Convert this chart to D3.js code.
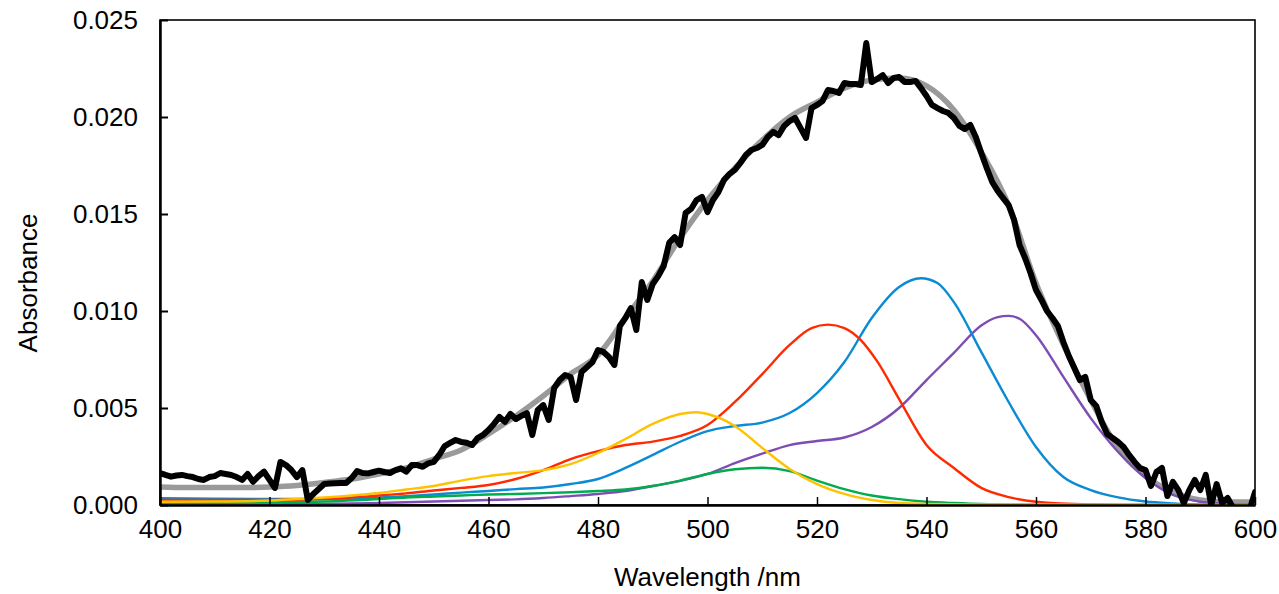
<!DOCTYPE html>
<html>
<head>
<meta charset="utf-8">
<script src="https://cdn.jsdelivr.net/npm/d3@7"></script>
<style>
  html, body { margin: 0; padding: 0; background: #fff; }
  svg { display: block; }
  text { font-family: "Liberation Sans", Arial, sans-serif; fill: #000; }
</style>
</head>
<body>
<svg id="chart" width="1279" height="594"></svg>
<script>
// ---------------- DATA ----------------
const xTicks = [400, 420, 440, 460, 480, 500, 520, 540, 560, 580, 600];
const yTicks = [0, 0.005, 0.010, 0.015, 0.020, 0.025];
const xLabel = "Wavelength /nm";
const yLabel = "Absorbance";

// measured spectrum (black), 1 nm steps 400..600
const measuredStart = 400;
const measured = [
  0.00165,0.00155,0.00146,0.00152,0.00155,0.00149,0.00144,0.00134,0.00129,0.00144,
  0.00149,0.00165,0.00160,0.00155,0.00144,0.00129,0.00160,0.00120,0.00149,0.00172,
  0.00129,0.00088,0.00222,0.00206,0.00180,0.00144,0.00180,0.00026,0.00057,0.00082,
  0.00108,0.00111,0.00112,0.00113,0.00113,0.00139,0.00175,0.00165,0.00163,0.00170,
  0.00177,0.00170,0.00165,0.00180,0.00189,0.00172,0.00206,0.00206,0.00197,0.00215,
  0.00222,0.00258,0.00304,0.00320,0.00335,0.00325,0.00321,0.00309,0.00345,0.00361,
  0.00387,0.00418,0.00454,0.00429,0.00469,0.00443,0.00459,0.00474,0.00361,0.00490,
  0.00515,0.00438,0.00603,0.00644,0.00670,0.00660,0.00541,0.00686,0.00711,0.00737,
  0.00799,0.00789,0.00763,0.00722,0.00923,0.00964,0.01015,0.00902,0.01149,0.01057,
  0.01139,0.01180,0.01232,0.01351,0.01381,0.01340,0.01505,0.01526,0.01572,0.01588,
  0.01510,0.01572,0.01613,0.01675,0.01706,0.01727,0.01763,0.01804,0.01830,0.01840,
  0.01856,0.01897,0.01923,0.01907,0.01954,0.01979,0.01995,0.01943,0.01892,0.02046,
  0.02062,0.02082,0.02139,0.02134,0.02124,0.02175,0.02170,0.02170,0.02165,0.02381,
  0.02180,0.02196,0.02216,0.02175,0.02201,0.02206,0.02180,0.02180,0.02186,0.02149,
  0.02108,0.02062,0.02046,0.02031,0.02021,0.01995,0.01954,0.01938,0.01959,0.01897,
  0.01814,0.01737,0.01665,0.01619,0.01582,0.01546,0.01469,0.01340,0.01273,0.01196,
  0.01108,0.01057,0.01000,0.00964,0.00923,0.00840,0.00768,0.00706,0.00644,0.00660,
  0.00541,0.00510,0.00428,0.00366,0.00345,0.00325,0.00299,0.00258,0.00222,0.00191,
  0.00180,0.00098,0.00170,0.00191,0.00046,0.00119,0.00077,0.00010,0.00077,0.00129,
  0.00077,0.00155,0.00000,0.00108,0.00010,0.00036,-0.00015,-0.00036,-0.00036,-0.00026,
  0.00067
];

// fitted sum (grey), [wavelength, absorbance]
const fitted = [
  [400,0.00093],[405,0.00090],[410,0.00090],[415,0.00090],[420,0.00093],[425,0.00101],
  [430,0.00116],[435,0.00134],[440,0.00160],[445,0.00191],[450,0.00237],[455,0.00284],
  [460,0.00366],[465,0.00459],[470,0.00562],[475,0.00675],[480,0.00773],[485,0.00964],
  [490,0.01155],[495,0.01376],[500,0.01572],[505,0.01737],[510,0.01881],[515,0.02000],
  [520,0.02077],[525,0.02149],[530,0.02191],[535,0.02201],[540,0.02160],[545,0.02036],
  [550,0.01820],[555,0.01546],[560,0.01144],[565,0.00825],[570,0.00541],[575,0.00294],
  [580,0.00149],[585,0.00067],[590,0.00026],[595,0.00015],[600,0.00015]
];

// component bands
const compPurple = [
  [400,0.00000],[420,0.00003],[440,0.00010],[450,0.00018],[460,0.00026],[465,0.00029],
  [470,0.00036],[475,0.00046],[480,0.00057],[485,0.00072],[490,0.00098],[495,0.00124],
  [500,0.00160],[505,0.00216],[510,0.00265],[515,0.00309],[520,0.00330],[525,0.00348],
  [530,0.00402],[535,0.00500],[540,0.00644],[545,0.00784],[550,0.00925],[553,0.00968],
  [555,0.00975],[557,0.00960],[560,0.00875],[565,0.00660],[570,0.00448],[575,0.00273],
  [580,0.00139],[585,0.00052],[590,0.00017],[595,0.00005],[600,0.00000]
];
const compBlue = [
  [400,0.00035],[410,0.00032],[420,0.00031],[430,0.00031],[440,0.00039],[445,0.00046],
  [450,0.00054],[455,0.00064],[460,0.00072],[465,0.00082],[470,0.00090],[475,0.00108],
  [480,0.00134],[485,0.00191],[490,0.00258],[495,0.00326],[500,0.00381],[505,0.00407],
  [510,0.00425],[515,0.00474],[520,0.00577],[525,0.00737],[530,0.00964],[535,0.01124],
  [539,0.01169],[542,0.01144],[545,0.01046],[550,0.00789],[555,0.00531],[560,0.00299],
  [565,0.00144],[570,0.00077],[575,0.00039],[580,0.00018],[585,0.00008],[590,0.00002],
  [600,0.00000]
];
const compRed = [
  [400,0.00026],[410,0.00026],[420,0.00026],[430,0.00031],[440,0.00049],[445,0.00060],
  [450,0.00075],[455,0.00088],[460,0.00103],[465,0.00134],[470,0.00180],[475,0.00237],
  [480,0.00278],[485,0.00309],[490,0.00327],[495,0.00356],[500,0.00412],[505,0.00531],
  [510,0.00675],[515,0.00825],[519,0.00912],[522,0.00930],[525,0.00912],[528,0.00850],
  [531,0.00740],[535,0.00546],[540,0.00309],[545,0.00191],[550,0.00088],[555,0.00041],
  [560,0.00017],[570,0.00003],[580,0.00000],[600,0.00000]
];
const compGreen = [
  [400,0.00009],[410,0.00010],[420,0.00013],[430,0.00018],[440,0.00031],[445,0.00039],
  [450,0.00044],[455,0.00049],[460,0.00054],[465,0.00057],[470,0.00061],[475,0.00066],
  [480,0.00072],[485,0.00080],[490,0.00098],[495,0.00126],[500,0.00160],[505,0.00184],
  [510,0.00192],[515,0.00175],[520,0.00126],[525,0.00082],[530,0.00049],[535,0.00030],
  [540,0.00017],[545,0.00010],[550,0.00005],[560,0.00002],[600,0.00000]
];
const compYellow = [
  [400,0.00017],[410,0.00018],[420,0.00023],[425,0.00031],[430,0.00039],[435,0.00049],
  [440,0.00062],[445,0.00080],[450,0.00098],[455,0.00126],[460,0.00149],[465,0.00165],
  [470,0.00180],[475,0.00211],[480,0.00268],[485,0.00340],[490,0.00418],[495,0.00469],
  [498,0.00478],[500,0.00469],[505,0.00407],[510,0.00294],[515,0.00186],[520,0.00108],
  [525,0.00057],[530,0.00026],[535,0.00010],[540,0.00005],[550,0.00003],[600,0.00000]
];

// ---------------- CHART ----------------
const margin = {left: 160, top: 20, right: 24, bottom: 89};
const W = 1279, H = 594;
const FONT = 26;
const svg = d3.select("#chart");

const x = d3.scaleLinear().domain([400, 600]).range([margin.left, W - margin.right]);
const y = d3.scaleLinear().domain([0, 0.025]).range([H - margin.bottom, margin.top]);

svg.append("defs").append("clipPath").attr("id", "plotclip")
  .append("rect")
  .attr("x", x(400)).attr("y", y(0.025))
  .attr("width", x(600) - x(400)).attr("height", y(0) - y(0.025) + 1);

// frame (top and right)
svg.append("rect")
  .attr("x", x(400)).attr("y", y(0.025))
  .attr("width", x(600) - x(400)).attr("height", y(0) - y(0.025))
  .attr("fill", "none").attr("stroke", "#000").attr("stroke-width", 1.6);

const plot = svg.append("g").attr("clip-path", "url(#plotclip)");

const lineSmooth = d3.line().x(d => x(d[0])).y(d => y(d[1])).curve(d3.curveMonotoneX);
const lineRaw = d3.line().x(d => x(d[0])).y(d => y(d[1])).curve(d3.curveLinear);

plot.append("path").datum(fitted)
  .attr("d", lineSmooth).attr("fill", "none")
  .attr("stroke", "#9a9a9a").attr("stroke-width", 5.5).attr("stroke-linejoin", "round");

const comps = [
  {data: compPurple, color: "#7d4cb4"},
  {data: compBlue,   color: "#0a8bd3"},
  {data: compRed,    color: "#ff2b00"},
  {data: compGreen,  color: "#00ac4e"},
  {data: compYellow, color: "#ffc200"}
];
comps.forEach(c => {
  plot.append("path").datum(c.data)
    .attr("d", lineSmooth).attr("fill", "none")
    .attr("stroke", c.color).attr("stroke-width", 2.4).attr("stroke-linejoin", "round");
});

const measuredPts = measured.map((v, i) => [measuredStart + i, v]);
plot.append("path").datum(measuredPts)
  .attr("d", lineRaw).attr("fill", "none")
  .attr("stroke", "#000").attr("stroke-width", 6)
  .attr("stroke-linejoin", "round").attr("stroke-linecap", "round");

// axes
const xAxis = d3.axisBottom(x).tickValues(xTicks).tickFormat(d3.format("d"))
  .tickSizeInner(-8).tickSizeOuter(0).tickPadding(15);
const gx = svg.append("g").attr("transform", `translate(0,${y(0)})`).call(xAxis);
gx.select(".domain").attr("stroke", "#000").attr("stroke-width", 2.5);
gx.selectAll(".tick line").attr("stroke", "#000").attr("stroke-width", 1.5);
gx.selectAll(".tick text").attr("font-size", FONT).attr("font-family", "Liberation Sans, Arial, sans-serif");

const yAxis = d3.axisLeft(y).tickValues(yTicks).tickFormat(d3.format(".3f"))
  .tickSizeInner(-8).tickSizeOuter(0).tickPadding(22);
const gy = svg.append("g").attr("transform", `translate(${x(400)},0)`).call(yAxis);
gy.select(".domain").attr("stroke", "#000").attr("stroke-width", 2.5);
gy.selectAll(".tick line").attr("stroke", "#000").attr("stroke-width", 2);
gy.selectAll(".tick text").attr("font-size", FONT).attr("font-family", "Liberation Sans, Arial, sans-serif");

// axis titles
svg.append("text")
  .attr("x", (x(400) + x(600)) / 2).attr("y", 586)
  .attr("text-anchor", "middle").attr("font-size", FONT)
  .text(xLabel);

svg.append("text")
  .attr("transform", `translate(37,283) rotate(-90)`)
  .attr("text-anchor", "middle").attr("font-size", FONT)
  .text(yLabel);
</script>
</body>
</html>
